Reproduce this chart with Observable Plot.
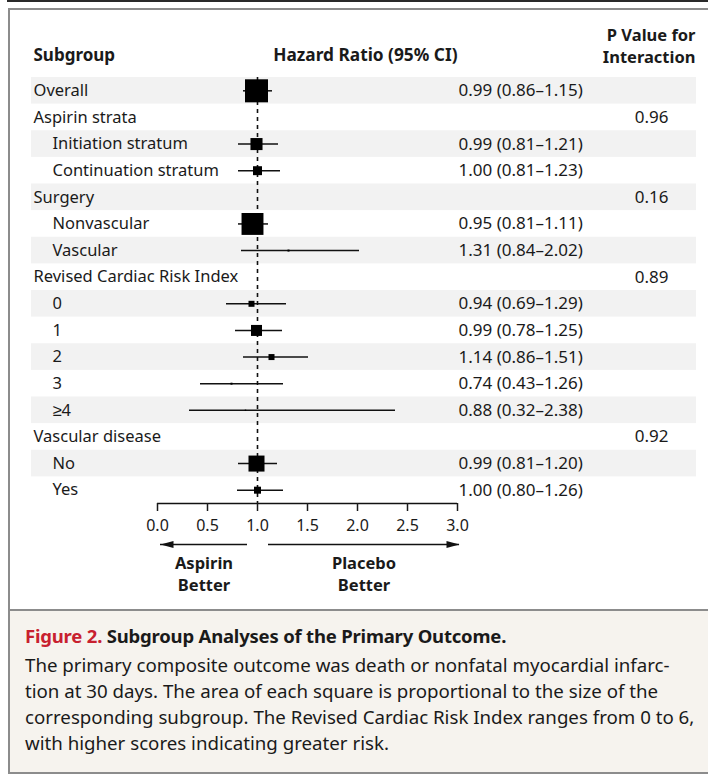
<!DOCTYPE html>
<html>
<head>
<meta charset="utf-8">
<script src="https://cdn.jsdelivr.net/npm/d3@7"></script>
<script src="https://cdn.jsdelivr.net/npm/@observablehq/plot@0.6"></script>
<style>
  html, body { margin: 0; padding: 0; background: #fff; }
  #wrap { position: relative; width: 708px; height: 778px; overflow: hidden; font-family: "Noto Sans", sans-serif; color: #1a1a1a; }
  #topline { position: absolute; left: 7px; top: 0; width: 701px; height: 2px; background: #2a2a2a; }
  #frame { position: absolute; left: 8px; top: 8px; width: 700px; height: 602px; border-left: 2px solid #8c8c8c; border-top: 2px solid #8c8c8c; box-sizing: border-box; }
  #plot { position: absolute; left: 0; top: 0; }
  #caption { position: absolute; left: 8px; top: 609px; width: 700px; height: 165px; box-sizing: border-box; background: #f6f3ee; border-left: 2px solid #8c8c8c; border-top: 2px solid #8c8c8c; border-bottom: 2px solid #8c8c8c; padding: 12px 0 0 15px; }
  #caption .t { font-size: 18.5px; line-height: 26px; font-weight: 700; margin-bottom: 3px; letter-spacing: -0.2px; white-space: nowrap; }
  #caption .t .red { color: #c8202f; }
  #caption .b { font-size: 18.7px; line-height: 26px; white-space: nowrap; }
</style>
</head>
<body>
<div id="wrap">
  <div id="topline"></div>
  <div id="frame"></div>
  <div id="plot"></div>
  <div id="caption">
    <div class="t"><span class="red">Figure 2.</span> Subgroup Analyses of the Primary Outcome.</div>
    <div class="b">The primary composite outcome was death or nonfatal myocardial infarc-<br>tion at 30 days. The area of each square is proportional to the size of the<br>corresponding subgroup. The Revised Cardiac Risk Index ranges from 0 to 6,<br>with higher scores indicating greater risk.</div>
  </div>
</div>
<script>
// ---- data ----
const labels = ["Overall", "Aspirin strata", "Initiation stratum", "Continuation stratum", "Surgery", "Nonvascular", "Vascular", "Revised Cardiac Risk Index", "0", "1", "2", "3", "≥4", "Vascular disease", "No", "Yes"];
const indent = [0, 0, 1, 1, 0, 1, 1, 0, 1, 1, 1, 1, 1, 0, 1, 1];
const hazardRatio = [0.99, null, 0.99, 1.00, null, 0.95, 1.31, null, 0.94, 0.99, 1.14, 0.74, 0.88, null, 0.99, 1.00];
const ciLow = [0.86, null, 0.81, 0.81, null, 0.81, 0.84, null, 0.69, 0.78, 0.86, 0.43, 0.32, null, 0.81, 0.80];
const ciHigh = [1.15, null, 1.21, 1.23, null, 1.11, 2.02, null, 1.29, 1.25, 1.51, 1.26, 2.38, null, 1.20, 1.26];
// relative subgroup size (square area)
const squareArea = [530, null, 145, 80, null, 480, 4, null, 36, 121, 36, 4, 2, null, 256, 49];
const pInteraction = [null, "0.96", null, null, "0.16", null, null, "0.89", null, null, null, null, null, "0.92", null, null];
const xTicks = [0, 0.5, 1, 1.5, 2, 2.5, 3];
const arrowLabels = ["Aspirin\nBetter", "Placebo\nBetter"];
const arrowFrom = [0.9, 1.11];
const arrowTo = [0.03, 3.02];

const rows = labels.map((label, i) => ({
  i, label, indent: indent[i], hr: hazardRatio[i], lo: ciLow[i], hi: ciHigh[i],
  w: squareArea[i], p: pInteraction[i]
}));
const est = rows.filter(d => d.hr != null);
const arrows = arrowLabels.map((label, k) => ({label, from: arrowFrom[k], to: arrowTo[k]}));
const fmt = d3.format(".2f");

const arrowHead = {
  draw(ctx) {
    ctx.moveTo(0, 0);
    ctx.lineTo(-13, -3.5);
    ctx.lineTo(-13, 3.5);
    ctx.closePath();
  }
};

const chart = Plot.plot({
  width: 708,
  height: 610,
  marginTop: 77,
  marginBottom: 107,
  marginLeft: 31,
  marginRight: 12,
  style: {fontFamily: "'Noto Sans', sans-serif", background: "transparent", color: "#1a1a1a", overflow: "visible"},
  x: {domain: [0, 3], range: [157, 457], label: null},
  y: {domain: [-0.5, 15.5], reverse: true, axis: null},
  r: {type: "sqrt", domain: [0, 530], range: [0, 13]},
  marks: [
    Plot.rect(rows.filter(d => d.i % 2 === 0), {y1: d => d.i - 0.5, y2: d => d.i + 0.5, fill: "#f2f2f2"}),
    Plot.ruleX([1], {strokeDasharray: "4,4", strokeWidth: 1.6, stroke: "#111"}),
    Plot.ruleY(est, {y: "i", x1: "lo", x2: "hi", strokeWidth: 1.5, stroke: "#111"}),
    Plot.dot(est, {x: "hr", y: "i", r: "w", symbol: "square", fill: "#000", stroke: null}),
    // axis
    Plot.ruleY([15.5], {x1: 0, x2: 3, strokeWidth: 1.5, stroke: "#111"}),
    Plot.axisX({ticks: xTicks, tickFormat: d3.format(".1f"), tickSize: 8, tickPadding: 8, fontSize: 16, strokeWidth: 1.5, label: null}),
    // direction arrows
    Plot.ruleY(arrows, {y: 15.5, x1: "from", x2: "to", dy: 41, strokeWidth: 1.5, stroke: "#111"}),
    Plot.dot(arrows, {x: "to", y: 15.5, dy: 41, r: 4, symbol: arrowHead, fill: "#111", stroke: null, rotate: d => d.to < 1 ? 180 : 0}),
    Plot.text(arrows, {x: d => (d.from + d.to) / 2, y: 15.5, dy: 69.5, text: "label", fontWeight: "bold", fontSize: 16.5, lineHeight: 1.3}),
    // row labels
    Plot.text(rows.filter(d => !d.indent), {y: "i", text: "label", frameAnchor: "left", dx: 2, textAnchor: "start", fontSize: 16.5}),
    Plot.text(rows.filter(d => d.indent), {y: "i", text: "label", frameAnchor: "left", dx: 21, textAnchor: "start", fontSize: 16.5}),
    // HR text
    Plot.text(est, {y: "i", text: d => `${fmt(d.hr)} (${fmt(d.lo)}–${fmt(d.hi)})`, frameAnchor: "right", dx: -238, textAnchor: "start", fontSize: 17}),
    // P values
    Plot.text(rows.filter(d => d.p), {y: "i", text: "p", frameAnchor: "right", dx: -28, textAnchor: "end", fontSize: 17}),
    // headers
    Plot.text(["Subgroup"], {frameAnchor: "top-left", dx: 2, dy: -22, textAnchor: "start", lineAnchor: "middle", fontWeight: "bold", fontSize: 17}),
    Plot.text(["Hazard Ratio (95% CI)"], {x: () => 3, frameAnchor: "top", dy: -22, textAnchor: "end", lineAnchor: "middle", fontWeight: "bold", fontSize: 17.3}),
    Plot.text(["P Value for\nInteraction"], {frameAnchor: "top-right", dx: -1, dy: -33, textAnchor: "end", lineAnchor: "middle", fontWeight: "bold", fontSize: 16.5, lineHeight: 1.33})
  ]
});
document.getElementById("plot").appendChild(chart);
</script>
</body>
</html>
